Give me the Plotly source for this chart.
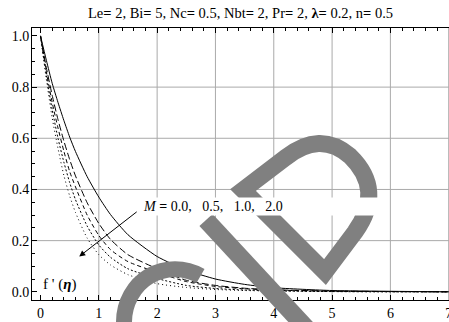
import plotly.graph_objects as go

# eta grid and f'(eta)
eta = [0, 0.1, 0.2, 0.3, 0.4, 0.5, 0.6, 0.8, 1.0, 1.2, 1.5, 2.0, 2.5, 3.0, 3.5, 4.0, 5.0, 6.0, 7.0]
m_00 = [1.0, 0.905, 0.815, 0.74, 0.67, 0.605, 0.548, 0.45, 0.37, 0.302, 0.223, 0.138, 0.085, 0.05, 0.029, 0.016, 0.005, 0.002, 0.0]
m_05 = [1.0, 0.876, 0.768, 0.673, 0.59, 0.517, 0.453, 0.348, 0.267, 0.205, 0.145, 0.09, 0.045, 0.025, 0.014, 0.008, 0.003, 0.001, 0.0]
m_10 = [1.0, 0.86, 0.74, 0.64, 0.55, 0.47, 0.41, 0.30, 0.22, 0.165, 0.118, 0.076, 0.04, 0.021, 0.012, 0.007, 0.002, 0.001, 0.0]
m_15 = [1.0, 0.844, 0.712, 0.60, 0.507, 0.427, 0.36, 0.257, 0.183, 0.135, 0.09, 0.052, 0.025, 0.013, 0.007, 0.004, 0.001, 0.0, 0.0]
m_20 = [1.0, 0.83, 0.68, 0.56, 0.455, 0.375, 0.31, 0.21, 0.145, 0.105, 0.067, 0.032, 0.017, 0.009, 0.005, 0.003, 0.001, 0.0, 0.0]

x_ticks = [0, 1, 2, 3, 4, 5, 6, 7]
y_ticks = [0.0, 0.2, 0.4, 0.6, 0.8, 1.0]
x_grid = [1, 2, 3, 4, 5, 6, 7]
y_grid = [0.2, 0.4, 0.6, 0.8]

title = ("Le<b>=</b> 2, Bi<b>=</b> 5, Nc<b>=</b> 0.5, Nbt<b>=</b> 2, "
         "Pr<b>=</b> 2, <b>λ=</b> 0.2, n<b>=</b> 0.5")
label = "<i>M</i> <b>=</b> 0.0,   0.5,   1.0,   2.0"

W, H = 449, 322
ML, MR, MT, MB = 32, 0, 28, 22
FONT = "Liberation Serif, Times New Roman, DejaVu Serif, serif"

fig = go.Figure()
styles = [
    (m_00, "solid"),
    (m_05, "7px,3px"),
    (m_10, "4px,3px"),
    (m_15, "2px,2px"),
    (m_20, "1px,3px"),
]
for ys, dash in styles:
    fig.add_trace(go.Scatter(x=eta, y=ys, mode="lines",
                             line=dict(color="black", width=1, dash=dash, shape="spline", smoothing=0.6),
                             showlegend=False, hoverinfo="skip"))

shapes = []
for gx in x_grid:
    shapes.append(dict(type="line", xref="x", yref="paper", x0=gx, x1=gx, y0=0, y1=1,
                       line=dict(color="#aaaaaa", width=1), layer="below"))
for gy in y_grid:
    shapes.append(dict(type="line", xref="paper", yref="y", x0=0, x1=1, y0=gy, y1=gy,
                       line=dict(color="#aaaaaa", width=1), layer="below"))


# grey watermark over the plot, given in page pixels
def pp(x, y):
    return "%.4f,%.4f" % ((x - ML) / (W - ML - MR), (H - MB - y) / (H - MT - MB))


wm = "#808080"
d_path = ("M" + pp(243, 190) + " L" + pp(325, 272) + " L" + pp(355, 232) +
          " Q" + pp(385, 190) + " " + pp(350, 156) + " Q" + pp(320, 130) + " " + pp(285, 158) + " Z")
leg_path = "M" + pp(206, 220) + " L" + pp(308, 330)
ring_path = ("M" + pp(124, 332) + " L" + pp(124, 322) +
             " C" + pp(124, 303) + " " + pp(134, 285) + " " + pp(149.5, 276) +
             " C" + pp(165, 267) + " " + pp(185, 267) + " " + pp(200.5, 276))
for p, w in [(d_path, 17), (leg_path, 18), (ring_path, 16)]:
    shapes.append(dict(type="path", path=p, xref="paper", yref="paper",
                       line=dict(color=wm, width=w), layer="above"))

fig.update_layout(
    width=W, height=H,
    margin=dict(l=ML, r=MR, t=MT, b=MB, autoexpand=False),
    paper_bgcolor="white", plot_bgcolor="white",
    font=dict(family=FONT, size=14, color="black"),
    title=dict(text=title, x=(ML + (W - ML - MR) / 2) / W, xanchor="center",
               y=1 - 13 / H, yanchor="middle", font=dict(family=FONT, size=14.5), automargin=False),
    xaxis=dict(range=[-0.146, 7.005], tickvals=x_ticks, ticks="inside", ticklen=5, tickcolor="black",
               minor=dict(dtick=0.2, tick0=0, ticks="inside", ticklen=3, tickcolor="black", showgrid=False),
               showgrid=False, zeroline=False, showline=True, linecolor="black", linewidth=1,
               mirror="ticks", automargin=False, ticklabeloverflow="allow",
               tickfont=dict(family=FONT, size=14)),
    yaxis=dict(range=[-0.032, 1.031], tickvals=y_ticks, tickformat=".1f", ticks="inside", ticklen=5,
               tickcolor="black",
               minor=dict(dtick=0.05, tick0=0, ticks="inside", ticklen=3, tickcolor="black", showgrid=False),
               showgrid=False, zeroline=False, showline=True, linecolor="black", linewidth=1,
               mirror=False, automargin=False, ticklabelstandoff=-1,
               tickfont=dict(family=FONT, size=14)),
    shapes=shapes,
    annotations=[
        dict(x=0.664, y=0.138, ax=1.675, ay=0.317, xref="x", yref="y", axref="x", ayref="y",
             text="", showarrow=True, arrowhead=2, arrowsize=1.2, arrowwidth=1, arrowcolor="black"),
        dict(x=1.726, y=0.334, xref="x", yref="y", xanchor="left", yanchor="middle",
             text=label, showarrow=False, bgcolor="white", width=236, height=15, align="left",
             font=dict(family=FONT, size=14)),
        dict(x=0.014, y=0.028, xref="x", yref="y", xanchor="left", yanchor="middle",
             text="f ' (<b><i>η</i></b>)", showarrow=False, font=dict(family=FONT, size=15)),
    ],
)

# drop the page's default body margin so the figure sits at the window corner
fig.write_html("out.html", config={"displayModeBar": False},
               post_script="document.body.style.margin='0px';")
